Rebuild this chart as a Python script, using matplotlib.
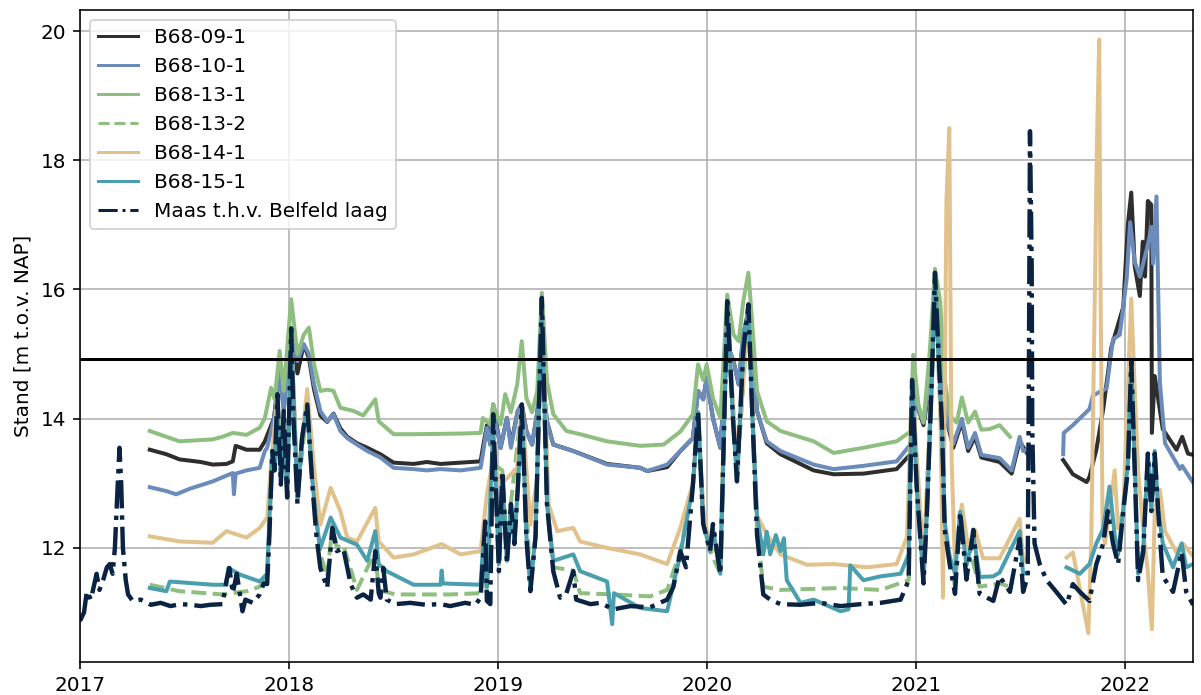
import numpy as np
import pandas as pd
import matplotlib
matplotlib.use("Agg")
import matplotlib.pyplot as plt
import matplotlib.dates as mdates

nan = np.nan

b0901_dates = ["2017-05-03", "2017-06-01", "2017-06-24", "2017-07-31", "2017-08-21", "2017-09-14", "2017-09-25",
               "2017-09-30", "2017-10-19", "2017-11-11", "2017-11-20", "2017-12-06", "2017-12-16", "2017-12-23",
               "2017-12-29", "2018-01-05", "2018-01-16", "2018-01-27", "2018-02-05", "2018-02-14", "2018-02-25",
               "2018-03-09", "2018-03-20", "2018-04-01", "2018-04-13", "2018-04-30", "2018-05-18", "2018-06-10",
               "2018-07-03", "2018-08-07", "2018-08-30", "2018-09-23", "2018-10-28", "2018-12-02", "2018-12-06",
               "2018-12-13", "2018-12-19", "2018-12-24", "2019-01-06", "2019-01-17", "2019-01-24", "2019-02-05",
               "2019-02-12", "2019-02-20", "2019-03-02", "2019-03-11", "2019-03-19", "2019-03-28", "2019-04-08",
               "2019-05-13", "2019-07-11", "2019-09-07", "2019-09-19", "2019-10-24", "2019-11-16", "2019-12-08",
               "2019-12-17", "2019-12-26", "2020-01-01", "2020-01-12", "2020-01-25", "2020-02-06", "2020-02-17",
               "2020-02-26", "2020-03-05", "2020-03-14", "2020-03-20", "2020-03-29", "2020-04-15", "2020-05-09",
               "2020-07-06", "2020-08-10", "2020-10-01", "2020-11-28", "2020-12-22", "2020-12-27", "2021-01-02",
               "2021-01-14", "2021-01-25", "2021-02-03", "2021-02-12", "2021-02-23", "2021-03-07", "2021-03-22",
               "2021-04-02", "2021-04-14", "2021-04-25", "2021-05-27", "2021-06-17", "2021-07-01", "2021-07-15",
               "2021-08-15", "2021-09-15", "2021-10-02", "2021-10-26", "2021-10-31", "2021-11-12", "2021-11-24",
               "2021-12-08", "2021-12-29", "2022-01-06", "2022-01-12", "2022-01-18", "2022-01-27", "2022-02-01",
               "2022-02-05", "2022-02-10", "2022-02-16", "2022-02-17", "2022-02-22", "2022-03-08", "2022-04-01",
               "2022-04-11", "2022-04-21", "2022-04-30"]
b0901_vals = [13.52, 13.45, 13.37, 13.33, 13.29, 13.30, 13.34,
              13.58, 13.52, 13.52, 13.65, 14.01, 14.79, 14.17,
              14.63, 15.35, 14.70, 15.15, 14.94, 14.45, 14.05,
              13.95, 14.08, 13.85, 13.72, 13.62, 13.55, 13.45,
              13.32, 13.30, 13.33, 13.30, 13.32, 13.34, 13.55,
              13.90, 13.60, 14.22, 13.55, 14.01, 13.60, 14.12,
              14.22, 13.81, 13.60, 14.10, 14.70, 13.96, 13.60,
              13.50, 13.30, 13.24, 13.19, 13.25, 13.50, 13.70,
              14.43, 14.30, 14.63, 14.01, 13.55, 15.15, 14.89,
              14.53, 15.30, 15.67, 15.05, 14.12, 13.62, 13.45,
              13.20, 13.14, 13.15, 13.22, 13.45, 14.55, 14.22,
              13.90, 14.55, 16.10, 15.30, 14.00, 13.55, 13.95,
              13.50, 13.72, 13.40, 13.33, 13.15, 13.65, 13.45,
              nan, 13.36, 13.14, 13.02, 13.10, 13.52, 14.15,
              15.10, 15.73, 17.00, 17.50, 16.36, 15.90, 16.74,
              16.20, 17.37, 17.31, 13.78, 14.66, 13.84, 13.52,
              13.72, 13.46, 13.44]

b1001_dates = ["2017-05-03", "2017-06-01", "2017-06-18", "2017-07-13", "2017-08-21", "2017-09-25", "2017-09-27",
               "2017-09-30", "2017-10-19", "2017-11-11", "2017-11-20", "2017-11-24", "2017-12-06", "2017-12-16",
               "2017-12-23", "2017-12-29", "2018-01-05", "2018-01-16", "2018-01-27", "2018-02-05", "2018-02-14",
               "2018-02-25", "2018-03-09", "2018-03-20", "2018-04-01", "2018-04-13", "2018-04-30", "2018-05-18",
               "2018-06-10", "2018-07-03", "2018-08-07", "2018-08-30", "2018-09-23", "2018-10-28", "2018-12-02",
               "2018-12-06", "2018-12-13", "2018-12-19", "2018-12-24", "2019-01-06", "2019-01-17", "2019-01-24",
               "2019-02-05", "2019-02-12", "2019-02-20", "2019-03-02", "2019-03-11", "2019-03-19", "2019-03-28",
               "2019-04-08", "2019-05-13", "2019-07-11", "2019-09-07", "2019-09-19", "2019-10-24", "2019-11-16",
               "2019-12-08", "2019-12-17", "2019-12-26", "2020-01-01", "2020-01-12", "2020-01-25", "2020-02-06",
               "2020-02-17", "2020-02-26", "2020-03-05", "2020-03-14", "2020-03-20", "2020-03-29", "2020-04-15",
               "2020-05-09", "2020-07-06", "2020-08-10", "2020-10-01", "2020-11-28", "2020-12-22", "2020-12-27",
               "2021-01-02", "2021-01-14", "2021-01-25", "2021-02-03", "2021-02-12", "2021-02-23", "2021-03-07",
               "2021-03-22", "2021-04-02", "2021-04-14", "2021-04-25", "2021-05-27", "2021-06-17", "2021-07-01",
               "2021-07-07", "2021-07-15", "2021-08-15", "2021-09-15", "2021-09-16", "2021-10-02", "2021-10-31",
               "2021-11-06", "2021-11-30", "2021-12-11", "2021-12-23", "2022-01-04", "2022-01-10", "2022-01-18",
               "2022-01-27", "2022-02-08", "2022-02-17", "2022-02-19", "2022-02-25", "2022-03-03", "2022-03-12",
               "2022-04-07", "2022-04-11", "2022-04-30"]
b1001_vals = [12.94, 12.88, 12.83, 12.92, 13.03, 13.16, 12.83,
              13.15, 13.20, 13.24, 13.50, 13.55, 14.00, 14.70,
              14.10, 14.63, 15.40, 14.89, 15.15, 15.00, 14.53,
              14.12, 13.96, 14.07, 13.81, 13.70, 13.60, 13.50,
              13.40, 13.24, 13.22, 13.20, 13.22, 13.20, 13.24,
              13.45, 13.86, 13.60, 14.12, 13.55, 14.01, 13.55,
              14.12, 14.22, 13.81, 13.60, 14.10, 14.74, 13.96,
              13.60, 13.50, 13.29, 13.24, 13.19, 13.29, 13.50,
              13.70, 14.43, 14.30, 14.63, 14.01, 13.55, 15.15,
              14.89, 14.53, 15.30, 15.67, 15.05, 14.12, 13.65,
              13.50, 13.29, 13.22, 13.27, 13.34, 13.60, 14.60,
              14.22, 13.94, 14.60, 16.15, 15.32, 14.05, 13.61,
              14.00, 13.55, 13.78, 13.44, 13.39, 13.20, 13.72,
              13.50, 13.52, nan, 13.45, 13.78, 13.90, 14.15,
              14.36, 14.47, 15.23, 15.30, 16.17, 17.04, 16.43,
              16.20, 16.62, 16.97, 16.40, 17.44, 14.56, 13.62,
              13.22, 13.27, 13.01]

b1301_dates = ["2017-05-03", "2017-06-01", "2017-06-24", "2017-08-21", "2017-09-07", "2017-09-25", "2017-10-19",
               "2017-11-11", "2017-11-20", "2017-12-01", "2017-12-07", "2017-12-16", "2017-12-23", "2018-01-05",
               "2018-01-16", "2018-01-27", "2018-02-05", "2018-02-14", "2018-02-25", "2018-03-09", "2018-03-20",
               "2018-04-01", "2018-04-24", "2018-05-11", "2018-06-01", "2018-06-07", "2018-07-03", "2018-08-07",
               "2018-10-28", "2018-12-02", "2018-12-06", "2018-12-19", "2018-12-24", "2019-01-06", "2019-01-14",
               "2019-01-24", "2019-02-04", "2019-02-12", "2019-02-20", "2019-03-02", "2019-03-11", "2019-03-19",
               "2019-03-28", "2019-04-08", "2019-05-01", "2019-05-25", "2019-07-11", "2019-09-07", "2019-10-18",
               "2019-11-16", "2019-12-08", "2019-12-17", "2019-12-26", "2020-01-01", "2020-01-12", "2020-01-25",
               "2020-02-06", "2020-02-17", "2020-02-26", "2020-03-05", "2020-03-14", "2020-03-20", "2020-03-29",
               "2020-04-15", "2020-05-09", "2020-07-06", "2020-08-10", "2020-10-01", "2020-11-28", "2020-12-22",
               "2020-12-27", "2021-01-05", "2021-01-14", "2021-01-25", "2021-02-03", "2021-02-12", "2021-02-20",
               "2021-03-01", "2021-03-13", "2021-03-22", "2021-04-02", "2021-04-14", "2021-04-25", "2021-05-10",
               "2021-05-27", "2021-06-14"]
b1301_vals = [13.81, 13.72, 13.65, 13.68, 13.72, 13.78, 13.75,
              13.86, 14.01, 14.48, 14.30, 15.05, 14.43, 15.85,
              15.00, 15.30, 15.41, 14.84, 14.43, 14.45, 14.43,
              14.17, 14.12, 14.05, 14.30, 13.96, 13.76, 13.76,
              13.77, 13.78, 14.01, 13.91, 14.22, 13.91, 14.38,
              14.10, 14.53, 15.20, 14.32, 14.10, 14.43, 15.95,
              14.58, 14.07, 13.81, 13.76, 13.65, 13.58, 13.60,
              13.80, 14.07, 14.84, 14.60, 14.84, 14.32, 14.01,
              15.92, 15.30, 15.20, 15.82, 16.26, 15.56, 14.43,
              13.96, 13.81, 13.65, 13.47, 13.55, 13.65, 13.80,
              14.99, 14.22, 13.94, 15.05, 16.32, 15.82, 14.60,
              14.05, 13.94, 14.33, 13.94, 14.11, 13.83, 13.84,
              13.90, 13.72]

b1302_dates = ["2017-05-03", "2017-06-24", "2017-09-07", "2017-10-19", "2017-11-11", "2017-11-24", "2017-12-03",
               "2017-12-12", "2017-12-18", "2017-12-23", "2017-12-29", "2018-01-05", "2018-01-16", "2018-02-02",
               "2018-02-11", "2018-02-25", "2018-03-09", "2018-03-18", "2018-03-26", "2018-04-06", "2018-04-30",
               "2018-06-01", "2018-06-07", "2018-07-06", "2018-10-10", "2018-12-02", "2018-12-07", "2018-12-13",
               "2018-12-24", "2019-01-09", "2019-01-17", "2019-01-24", "2019-02-12", "2019-02-27", "2019-03-08",
               "2019-03-19", "2019-03-28", "2019-04-08", "2019-05-13", "2019-05-25", "2019-07-22", "2019-09-24",
               "2019-10-24", "2019-11-16", "2019-12-08", "2019-12-17", "2019-12-26", "2020-01-07", "2020-01-25",
               "2020-02-06", "2020-02-23", "2020-03-14", "2020-03-29", "2020-04-09", "2020-05-09", "2020-08-22",
               "2020-10-31", "2020-12-19", "2020-12-25", "2021-01-14", "2021-02-03", "2021-02-20", "2021-03-10",
               "2021-03-19", "2021-04-22", "2021-05-27", "2021-06-14"]
b1302_vals = [11.43, 11.33, 11.28, 11.33, 11.40, 11.60, 13.30,
              14.30, 13.10, 14.10, 12.90, 15.30, 12.80, 14.20,
              13.10, 11.90, 11.55, 12.35, 12.00, 12.05, 11.35,
              11.95, 11.35, 11.28, 11.28, 11.30, 11.95, 11.30,
              13.30, 13.20, 11.85, 12.70, 14.20, 11.40, 12.20,
              15.80, 12.70, 11.70, 11.65, 11.30, 11.28, 11.25,
              11.35, 11.95, 12.95, 14.10, 12.40, 11.95, 11.60,
              15.70, 13.10, 15.70, 12.30, 11.40, 11.35, 11.38,
              11.35, 11.50, 14.50, 11.50, 16.20, 12.30, 11.40,
              12.50, 11.40, 11.45, 11.40]

b1401_dates = ["2017-05-03", "2017-06-24", "2017-08-21", "2017-09-14", "2017-10-19", "2017-11-11", "2017-11-24",
               "2017-12-01", "2017-12-12", "2017-12-18", "2017-12-23", "2017-12-29", "2018-01-05", "2018-01-16",
               "2018-02-02", "2018-02-14", "2018-02-25", "2018-03-15", "2018-04-01", "2018-04-13", "2018-04-30",
               "2018-06-01", "2018-06-07", "2018-07-03", "2018-08-07", "2018-09-25", "2018-10-28", "2018-12-02",
               "2018-12-13", "2018-12-24", "2019-01-06", "2019-02-04", "2019-02-12", "2019-02-27", "2019-03-11",
               "2019-03-19", "2019-03-31", "2019-04-15", "2019-05-13", "2019-05-25", "2019-07-11", "2019-09-07",
               "2019-10-24", "2019-11-16", "2019-12-08", "2019-12-17", "2019-12-26", "2020-01-07", "2020-01-25",
               "2020-02-06", "2020-02-23", "2020-03-14", "2020-03-29", "2020-04-15", "2020-05-09", "2020-06-24",
               "2020-08-10", "2020-10-07", "2020-11-28", "2020-12-16", "2020-12-25", "2021-01-14", "2021-01-28",
               "2021-02-03", "2021-02-12", "2021-02-17", "2021-02-23", "2021-02-28", "2021-03-04", "2021-03-10",
               "2021-03-22", "2021-04-02", "2021-04-14", "2021-04-28", "2021-05-27", "2021-07-01", "2021-07-07",
               "2021-07-15", "2021-08-15", "2021-09-21", "2021-10-02", "2021-10-29", "2021-11-03", "2021-11-09",
               "2021-11-13", "2021-11-17", "2021-11-19", "2021-11-23", "2021-11-27", "2021-12-05", "2021-12-14",
               "2021-12-20", "2021-12-29", "2022-01-06", "2022-01-12", "2022-01-18", "2022-01-24", "2022-02-02",
               "2022-02-10", "2022-02-17", "2022-02-22", "2022-03-03", "2022-03-12", "2022-04-01", "2022-04-12",
               "2022-04-30"]
b1401_vals = [12.18, 12.10, 12.08, 12.26, 12.16, 12.31, 12.47,
              13.30, 14.35, 13.20, 14.10, 13.00, 15.35, 13.00,
              14.46, 13.24, 12.36, 12.93, 12.57, 12.16, 12.10,
              12.62, 12.10, 11.85, 11.90, 12.06, 11.90, 11.95,
              12.83, 13.39, 12.98, 13.24, 14.22, 12.36, 13.09,
              15.77, 12.67, 12.26, 12.31, 12.10, 12.00, 11.90,
              11.75, 12.31, 13.00, 14.10, 12.60, 12.00, 11.90,
              15.75, 13.20, 15.70, 12.50, 12.21, 11.90, 11.74,
              11.75, 11.70, 11.75, 12.17, 14.55, 11.80, 14.50,
              16.20, 14.50, 11.23, 17.37, 18.50, 13.39, 11.73,
              12.67, 12.00, 12.28, 11.84, 11.84, 12.45, 11.80,
              11.85, nan, 11.85, 11.93, 10.68, 12.07, 15.73,
              18.26, 19.87, 16.36, 12.26, 12.07, 12.57, 13.20,
              12.30, 12.57, 14.47, 15.86, 14.47, 13.20, 12.26,
              11.62, 10.74, 12.57, 12.90, 12.26, 11.93, 12.07,
              11.87]

b1501_dates = ["2017-05-03", "2017-06-01", "2017-06-07", "2017-08-21", "2017-09-14", "2017-09-17", "2017-10-07",
               "2017-11-11", "2017-11-24", "2017-12-03", "2017-12-07", "2017-12-12", "2017-12-18", "2017-12-23",
               "2017-12-29", "2018-01-05", "2018-01-16", "2018-01-24", "2018-02-02", "2018-02-11", "2018-02-18",
               "2018-02-25", "2018-03-15", "2018-04-01", "2018-04-30", "2018-05-18", "2018-06-01", "2018-06-07",
               "2018-06-21", "2018-08-07", "2018-09-23", "2018-09-25", "2018-09-27", "2018-12-02", "2018-12-07",
               "2018-12-13", "2018-12-24", "2019-01-03", "2019-01-09", "2019-01-17", "2019-01-24", "2019-01-30",
               "2019-02-05", "2019-02-12", "2019-02-20", "2019-02-27", "2019-03-08", "2019-03-19", "2019-03-28",
               "2019-04-08", "2019-05-13", "2019-05-25", "2019-07-11", "2019-07-20", "2019-07-23", "2019-09-07",
               "2019-10-24", "2019-11-16", "2019-12-08", "2019-12-17", "2019-12-26", "2020-01-07", "2020-01-12",
               "2020-01-25", "2020-02-06", "2020-02-16", "2020-02-23", "2020-03-05", "2020-03-14", "2020-03-20",
               "2020-03-29", "2020-04-09", "2020-04-15", "2020-04-21", "2020-05-01", "2020-05-09", "2020-05-15",
               "2020-05-20", "2020-06-13", "2020-07-06", "2020-08-22", "2020-09-05", "2020-09-08", "2020-10-01",
               "2020-10-31", "2020-12-05", "2020-12-19", "2020-12-25", "2021-01-02", "2021-01-14", "2021-01-20",
               "2021-01-28", "2021-02-03", "2021-02-09", "2021-02-15", "2021-02-20", "2021-03-01", "2021-03-10",
               "2021-03-19", "2021-03-30", "2021-04-11", "2021-04-22", "2021-05-16", "2021-05-27", "2021-07-01",
               "2021-07-07", "2021-07-15", "2021-08-15", "2021-09-21", "2021-10-14", "2021-10-31", "2021-11-12",
               "2021-11-24", "2021-12-05", "2021-12-14", "2021-12-20", "2021-12-29", "2022-01-06", "2022-01-12",
               "2022-01-18", "2022-01-24", "2022-02-02", "2022-02-10", "2022-02-16", "2022-02-22", "2022-02-28",
               "2022-03-08", "2022-03-26", "2022-04-10", "2022-04-18", "2022-04-30"]
b1501_vals = [11.38, 11.33, 11.48, 11.43, 11.43, 11.69, 11.59,
              11.48, 11.60, 13.50, 13.20, 14.35, 13.00, 14.10,
              12.80, 15.38, 12.75, 13.70, 14.20, 13.05, 12.40,
              12.00, 12.47, 12.16, 12.05, 11.80, 12.26, 11.75,
              11.64, 11.43, 11.43, 11.65, 11.45, 11.43, 12.10,
              11.40, 13.90, 11.75, 13.10, 11.80, 12.60, 12.10,
              12.90, 14.20, 12.20, 11.40, 12.20, 15.85, 12.70,
              11.80, 11.90, 11.64, 11.48, 10.82, 11.30, 11.07,
              11.02, 11.90, 12.95, 14.10, 12.40, 11.95, 12.30,
              11.60, 15.80, 14.00, 13.05, 15.00, 15.75, 14.20,
              12.50, 11.90, 12.25, 11.90, 12.20, 11.95, 12.15,
              11.50, 11.15, 11.20, 11.02, 11.05, 11.73, 11.50,
              11.56, 11.60, 11.90, 14.55, 12.95, 11.50, 12.55,
              14.45, 16.20, 15.00, 13.95, 12.40, 11.85, 11.60,
              12.56, 11.73, 12.20, 11.55, 11.56, 11.62, 12.26,
              11.60, 11.62, nan, 11.70, 11.60, 11.75, 12.07,
              12.30, 12.95, 12.20, 11.90, 12.60, 13.30, 14.90,
              13.30, 11.60, 12.00, 13.46, 12.60, 13.50, 12.60,
              12.07, 11.70, 12.07, 11.70, 11.75]

maas_dates = ["2017-01-01", "2017-01-08", "2017-01-13", "2017-01-20", "2017-01-30", "2017-02-04", "2017-02-10",
              "2017-02-17", "2017-02-22", "2017-02-27", "2017-03-03", "2017-03-07", "2017-03-11", "2017-03-14",
              "2017-03-17", "2017-03-22", "2017-03-26", "2017-04-03", "2017-04-17", "2017-05-05", "2017-05-22",
              "2017-06-08", "2017-06-26", "2017-07-13", "2017-07-31", "2017-08-17", "2017-09-07", "2017-09-14",
              "2017-09-19", "2017-09-25", "2017-10-02", "2017-10-12", "2017-10-17", "2017-10-30", "2017-11-11",
              "2017-11-18", "2017-11-24", "2017-11-28", "2017-12-03", "2017-12-07", "2017-12-12", "2017-12-18",
              "2017-12-23", "2017-12-29", "2018-01-05", "2018-01-09", "2018-01-16", "2018-01-20", "2018-01-24",
              "2018-02-02", "2018-02-11", "2018-02-18", "2018-02-25", "2018-03-09", "2018-03-18", "2018-03-26",
              "2018-04-06", "2018-04-19", "2018-04-30", "2018-05-11", "2018-05-24", "2018-06-01", "2018-06-07",
              "2018-06-10", "2018-06-15", "2018-06-21", "2018-07-06", "2018-08-01", "2018-08-28", "2018-09-23",
              "2018-10-10", "2018-11-05", "2018-11-23", "2018-12-02", "2018-12-07", "2018-12-10", "2018-12-13",
              "2018-12-19", "2018-12-24", "2019-01-03", "2019-01-09", "2019-01-17", "2019-01-24", "2019-01-30",
              "2019-02-05", "2019-02-12", "2019-02-20", "2019-02-27", "2019-03-08", "2019-03-19", "2019-03-28",
              "2019-04-08", "2019-04-20", "2019-05-01", "2019-05-13", "2019-05-18", "2019-05-25", "2019-06-12",
              "2019-06-29", "2019-07-22", "2019-08-21", "2019-09-24", "2019-10-24", "2019-11-04", "2019-11-16",
              "2019-11-26", "2019-12-08", "2019-12-17", "2019-12-26", "2020-01-07", "2020-01-12", "2020-01-25",
              "2020-02-06", "2020-02-16", "2020-02-23", "2020-03-05", "2020-03-14", "2020-03-20", "2020-03-29",
              "2020-04-09", "2020-04-21", "2020-05-09", "2020-06-13", "2020-07-18", "2020-08-22", "2020-09-26",
              "2020-10-31", "2020-12-05", "2020-12-19", "2020-12-25", "2021-01-02", "2021-01-14", "2021-01-20",
              "2021-01-28", "2021-02-03", "2021-02-09", "2021-02-15", "2021-02-20", "2021-03-01", "2021-03-10",
              "2021-03-19", "2021-03-30", "2021-04-11", "2021-04-22", "2021-05-16", "2021-05-27", "2021-06-14",
              "2021-07-01", "2021-07-07", "2021-07-15", "2021-07-17", "2021-07-19", "2021-07-22", "2021-07-23",
              "2021-07-27", "2021-08-05", "2021-08-17", "2021-09-03", "2021-09-21", "2021-10-02", "2021-10-14",
              "2021-10-31", "2021-11-12", "2021-11-24", "2021-12-02", "2021-12-11", "2021-12-20", "2021-12-29",
              "2022-01-06", "2022-01-12", "2022-01-18", "2022-01-24", "2022-02-02", "2022-02-10", "2022-02-16",
              "2022-02-22", "2022-02-28", "2022-03-08", "2022-03-26", "2022-04-10", "2022-04-18", "2022-04-30"]
maas_vals = [10.87, 11.00, 11.33, 11.20, 11.60, 11.35, 11.49,
             11.70, 11.75, 11.60, 12.00, 12.80, 13.55, 13.00,
             12.00, 11.50, 11.28, 11.18, 11.20, 11.12, 11.15,
             11.10, 11.13, 11.12, 11.10, 11.12, 11.13, 11.50,
             11.69, 11.30, 11.60, 11.02, 11.20, 11.15, 11.28,
             11.45, 11.44, 12.20, 13.50, 13.20, 14.38, 12.98,
             14.12, 12.78, 15.40, 14.00, 12.68, 13.20, 13.70,
             14.22, 12.98, 12.20, 11.69, 11.38, 12.31, 11.95,
             12.00, 11.44, 11.23, 11.28, 11.20, 11.95, 11.30,
             11.23, 11.69, 11.20, 11.13, 11.15, 11.12, 11.13,
             11.10, 11.15, 11.12, 11.23, 11.95, 12.41, 11.18,
             11.13, 14.07, 11.64, 13.19, 11.75, 12.68, 12.06,
             12.93, 14.22, 12.16, 11.33, 12.16, 15.87, 12.68,
             11.64, 11.23, 11.30, 11.64, 11.20, 11.18, 11.13,
             11.15, 11.05, 11.10, 11.08, 11.20, 11.40, 11.95,
             11.70, 12.98, 14.12, 12.37, 11.95, 12.37, 11.59,
             15.82, 14.00, 13.03, 15.05, 15.77, 14.27, 12.21,
             11.28, 11.20, 11.13, 11.12, 11.15, 11.10, 11.13,
             11.15, 11.20, 11.50, 14.60, 12.95, 11.45, 12.56,
             14.49, 16.26, 15.05, 13.95, 12.28, 11.73, 11.29,
             12.56, 11.51, 12.28, 11.29, 11.18, 11.56, 11.32,
             12.14, 11.32, 11.56, 14.50, 18.45, 16.36, 13.84,
             12.07, 11.75, 11.50, 11.32, 11.12, 11.44, 11.32,
             11.18, 11.75, 12.07, 12.57, 12.07, 11.75, 12.57,
             13.20, 14.91, 13.20, 11.50, 11.94, 13.46, 12.57,
             13.46, 12.57, 11.56, 11.32, 11.94, 11.32, 11.12]

grens = 14.93  # horizontale referentielijn

series = [
    ("B68-09-1", b0901_dates, b0901_vals, "#2e2e2e", "-", 2.0),
    ("B68-10-1", b1001_dates, b1001_vals, "#6b8cba", "-", 2.0),
    ("B68-13-1", b1301_dates, b1301_vals, "#8fbf80", "-", 2.0),
    ("B68-13-2", b1302_dates, b1302_vals, "#8fbf80", "--", 2.0),
    ("B68-14-1", b1401_dates, b1401_vals, "#e2c28c", "-", 2.0),
    ("B68-15-1", b1501_dates, b1501_vals, "#4a9fae", "-", 2.0),
    ("Maas t.h.v. Belfeld laag", maas_dates, maas_vals, "#0b2342", "-.", 2.2),
]

fig = plt.figure(figsize=(1201 / 144, 695 / 144), dpi=144)
ax = fig.add_axes([0.0666, 0.048, 0.9268, 0.938])

for naam, d, v, kleur, stijl, dikte in series:
    ax.plot(pd.to_datetime(d), v, color=kleur, linestyle=stijl, lw=dikte, label=naam)

ax.axhline(grens, color="black", lw=1.5)

ax.set_xlim(pd.Timestamp("2017-01-01"), pd.Timestamp("2022-04-30"))
ax.set_ylim(10.24, 20.33)
ax.set_yticks([12, 14, 16, 18, 20])
ax.xaxis.set_major_locator(mdates.YearLocator())
ax.xaxis.set_major_formatter(mdates.DateFormatter("%Y"))
ax.grid(True)
ax.set_axisbelow(True)
ax.set_ylabel("Stand [m t.o.v. NAP]")
leg = ax.legend(loc="upper left")
for h in leg.get_lines():
    h.set_linewidth(1.5)

fig.savefig("out.png", dpi=144)
